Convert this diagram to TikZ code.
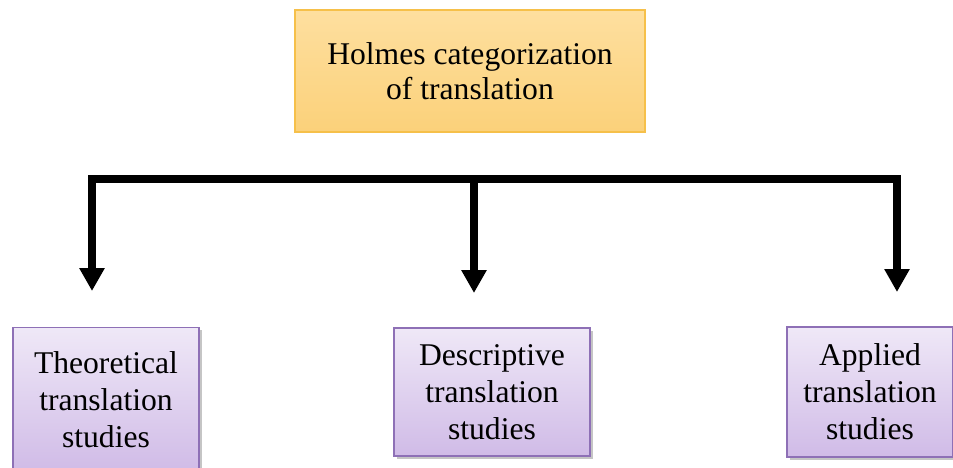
\documentclass[tikz,border=0pt]{standalone}
\usepackage{fontspec}
\setmainfont{Liberation Serif}
\usetikzlibrary{arrows.meta,shadows}

\definecolor{goldtop}{HTML}{FEDF9F}
\definecolor{goldbot}{HTML}{FBD17A}
\definecolor{goldline}{HTML}{F6C04A}
\definecolor{lilactop}{HTML}{EFE8F7}
\definecolor{lilacbot}{HTML}{D0BBE7}
\definecolor{lilacline}{HTML}{8E70B6}

\tikzset{
    headbox/.style={draw=goldline, line width=0.8pt, top color=goldtop, bottom color=goldbot,
        align=center, font=\fontsize{18}{20}\selectfont, inner sep=0pt},
    branchbox/.style={draw=lilacline, line width=0.8pt, top color=lilactop, bottom color=lilacbot,
        align=center, font=\fontsize{18}{21}\selectfont, inner sep=0pt,
        drop shadow={shadow xshift=1.5pt, shadow yshift=-1.5pt, fill=black!45, opacity=0.5}},
    link/.style={line width=4.1pt, line join=miter, -{Triangle[length=0.46cm, width=0.48cm]}}
}

\begin{document}
\begin{tikzpicture}[x=0.02cm, y=-0.02cm]
        \useasboundingbox (0, 0) rectangle (953, 467);

        \node[headbox, minimum width=7cm, minimum height=2.44cm] (holmes) at (470, 71)
            {Holmes categorization\\of translation};

        \node[branchbox, minimum width=3.72cm, minimum height=2.9cm] (theo) at (106, 400)
            {Theoretical\\translation\\studies};
        \node[branchbox, minimum width=3.92cm, minimum height=2.56cm] (desc) at (492, 392)
            {Descriptive\\translation\\studies};
        \node[branchbox, minimum width=3.32cm, minimum height=2.6cm] (appl) at (870, 392)
            {Applied\\translation\\studies};

        % bar and arrow tips
        \coordinate (bar) at (474, 179);
        \coordinate (tiptheo) at (92, 291);
        \coordinate (tipdesc) at (474, 293);
        \coordinate (tipappl) at (897, 292);

        \draw[link] (bar) -| (tiptheo);
        \draw[link] (bar) -- (tipdesc);
        \draw[link] (bar) -| (tipappl);

    \end{tikzpicture}
\end{document}
